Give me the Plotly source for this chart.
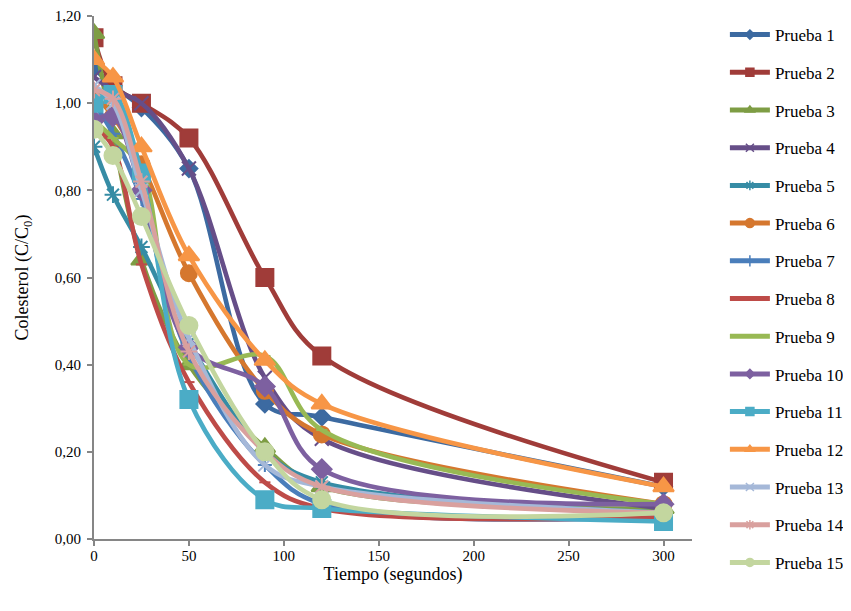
import plotly.graph_objects as go

tiempo = [0, 10, 25, 50, 90, 120, 300]

series_names = ["Prueba 1", "Prueba 2", "Prueba 3", "Prueba 4", "Prueba 5",
                "Prueba 6", "Prueba 7", "Prueba 8", "Prueba 9", "Prueba 10",
                "Prueba 11", "Prueba 12", "Prueba 13", "Prueba 14", "Prueba 15"]

prueba_1 = [1.08, 1.04, 0.99, 0.85, 0.31, 0.28, 0.12]
prueba_2 = [1.15, 1.04, 1.00, 0.92, 0.60, 0.42, 0.13]
prueba_3 = [1.16, 0.93, 0.64, 0.40, 0.21, 0.12, 0.07]
prueba_4 = [1.06, 1.03, 1.00, 0.85, 0.37, 0.23, 0.07]
prueba_5 = [0.90, 0.79, 0.67, 0.45, 0.20, 0.13, 0.06]
prueba_6 = [1.02, 0.97, 0.86, 0.61, 0.34, 0.24, 0.08]
prueba_7 = [1.00, 0.93, 0.78, 0.42, 0.17, 0.08, 0.05]
prueba_8 = [0.95, 0.90, 0.63, 0.36, 0.13, 0.07, 0.05]
prueba_9 = [0.96, 0.92, 0.85, 0.40, 0.42, 0.25, 0.08]
prueba_10 = [0.96, 0.97, 0.80, 0.44, 0.35, 0.16, 0.08]
prueba_11 = [1.00, 1.02, 0.84, 0.32, 0.09, 0.07, 0.04]
prueba_12 = [1.10, 1.06, 0.90, 0.65, 0.41, 0.31, 0.12]
prueba_13 = [1.04, 1.00, 0.80, 0.46, 0.17, 0.12, 0.06]
prueba_14 = [1.03, 1.01, 0.82, 0.43, 0.20, 0.12, 0.06]
prueba_15 = [0.94, 0.88, 0.74, 0.49, 0.20, 0.09, 0.06]

all_values = [prueba_1, prueba_2, prueba_3, prueba_4, prueba_5, prueba_6, prueba_7,
              prueba_8, prueba_9, prueba_10, prueba_11, prueba_12, prueba_13,
              prueba_14, prueba_15]

colors = ["#3C6AA1", "#A03C39", "#7E9D44", "#664E88", "#368CA5", "#D5772E",
          "#4A7EBB", "#BE4B48", "#98B954", "#7D60A0", "#4BACC6", "#F79646",
          "#A5B8D8", "#D9A09E", "#C3D69F"]
symbols = ["diamond", "square", "triangle-up", "x-thin-open", "asterisk-open", "circle",
           "cross-thin-open", "line-ew-open", "line-ew-open", "diamond", "square",
           "triangle-up", "x-thin-open", "asterisk-open", "circle"]
sizes = [13, 17, 18, 14, 14, 16, 10, 8, 8, 15, 17, 18, 13, 14, 17]
legend_sizes = [7, 8, 8, 8, 8, 9, 8, 4, 4, 7, 8, 8, 8, 8, 8]

y_ticks = [0.0, 0.2, 0.4, 0.6, 0.8, 1.0, 1.2]
y_tick_text = ["0,00", "0,20", "0,40", "0,60", "0,80", "1,00", "1,20"]
x_ticks = [0, 50, 100, 150, 200, 250, 300]

SERIF = "Liberation Serif"

fig = go.Figure()
for name, vals, col, sym, sz in zip(series_names, all_values, colors, symbols, sizes):
    fig.add_trace(go.Scatter(
        x=tiempo, y=vals, name=name, legendgroup=name, showlegend=False,
        mode="lines+markers",
        line=dict(color=col, width=4.6, shape="spline", smoothing=1.0),
        marker=dict(symbol=sym, size=sz, color=col, line=dict(color=col, width=2)),
    ))
# legend entries with small markers, like the original legend
for name, col, sym, lsz in zip(series_names, colors, symbols, legend_sizes):
    fig.add_trace(go.Scatter(
        x=[None], y=[None], name=name, legendgroup=name, showlegend=True,
        mode="lines+markers",
        line=dict(color=col, width=5),
        marker=dict(symbol=sym, size=lsz, color=col, line=dict(color=col, width=1.5)),
    ))

# page body has an 8px margin, so the figure is 8px smaller and margins shifted
fig.update_layout(
    width=843, height=603,
    margin=dict(l=86, r=159, t=8, b=72, autoexpand=False),
    plot_bgcolor="white", paper_bgcolor="white",
    font=dict(family=SERIF, size=15, color="black"),
    showlegend=True,
    legend=dict(x=1.055, y=0.998, xanchor="left", yanchor="top",
                font=dict(family=SERIF, size=17, color="black"),
                tracegroupgap=12.6, itemwidth=40, maxheight=600,
                bgcolor="rgba(0,0,0,0)"),
    xaxis=dict(range=[0, 315], tickvals=x_ticks, showgrid=False, zeroline=False,
               showline=True, linecolor="#868686", linewidth=2,
               ticks="outside", ticklen=5, tickcolor="#868686", tickwidth=2,
               tickfont=dict(family=SERIF, size=15), ticklabelstandoff=-3,
               title=dict(text="Tiempo (segundos)", font=dict(family=SERIF, size=18), standoff=0)),
    yaxis=dict(range=[0, 1.2], tickvals=y_ticks, ticktext=y_tick_text,
               showgrid=False, zeroline=False,
               showline=True, linecolor="#868686", linewidth=2,
               ticks="outside", ticklen=5, tickcolor="#868686", tickwidth=2,
               tickfont=dict(family=SERIF, size=15), ticklabelstandoff=3,
               title=dict(text="Colesterol (C/C<sub>0</sub>)", font=dict(family=SERIF, size=18), standoff=21)),
)

fig.write_html("out.html")
